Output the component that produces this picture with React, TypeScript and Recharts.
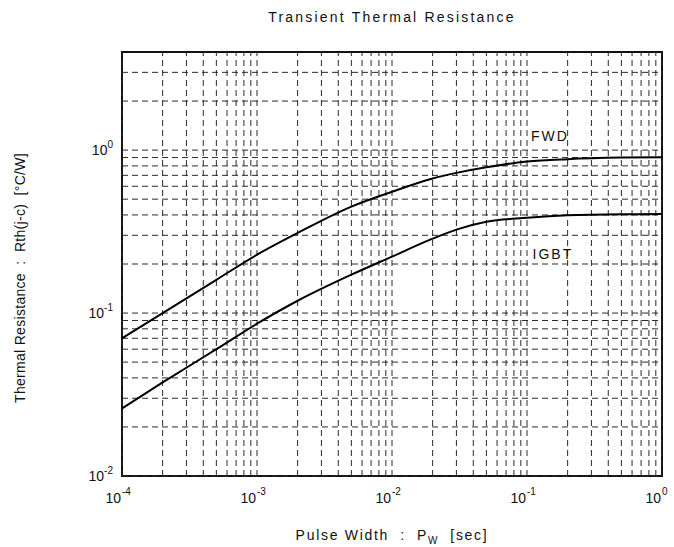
import React from "react";
import { LineChart, Line, XAxis, YAxis, ReferenceLine, ReferenceArea, ReferenceDot } from "recharts";

// pulse width [sec]
const fwdPw = [1e-4, 2e-4, 5e-4, 1e-3, 2e-3, 5e-3, 1e-2, 2e-2, 3e-2, 5e-2, 1e-1, 2e-1, 5e-1, 1];
const fwdRth = [0.07, 0.1, 0.16, 0.228, 0.31, 0.45, 0.555, 0.67, 0.725, 0.785, 0.85, 0.88, 0.9, 0.905];

const igbtPw = [1e-4, 2e-4, 5e-4, 1e-3, 2e-3, 5e-3, 1e-2, 2e-2, 3e-2, 5e-2, 1e-1, 2e-1, 5e-1, 1];
const igbtRth = [0.026, 0.0375, 0.06, 0.086, 0.119, 0.172, 0.222, 0.286, 0.325, 0.363, 0.384, 0.398, 0.404, 0.405];

const xTicks = [1e-4, 1e-3, 1e-2, 1e-1, 1];
const xExp = ["-4", "-3", "-2", "-1", "0"];
const yTicks = [0.01, 0.1, 1];
const yExp = ["-2", "-1", "0"];

const xDecades = [1e-4, 1e-3, 1e-2, 1e-1];
const yDecades = [0.01, 0.1];
const mult = [1, 2, 3, 4, 5, 6, 7, 8, 9];
const yExtra = [1, 2, 3];

const xGrid = xDecades.flatMap((d) => mult.map((m) => d * m)).concat([1]);
const yGrid = yDecades.flatMap((d) => mult.map((m) => d * m)).concat(yExtra);

const fwdData = fwdPw.map((t, i) => ({ t, r: fwdRth[i] }));
const igbtData = igbtPw.map((t, i) => ({ t, r: igbtRth[i] }));

const FONT = "'Liberation Sans', Arial, sans-serif";
const GRID = "#2a2a2a";

function XTick(props: any) {
    const { x, y, index } = props;
    return (
        <g>
            <text x={x - 1} y={y + 27} textAnchor="end" fontSize={14} fill="#111" fontFamily={FONT}>10</text>
            <text x={x} y={y + 19} textAnchor="start" fontSize={10} fill="#111" fontFamily={FONT}>{xExp[index]}</text>
        </g>
    );
}

function YTick(props: any) {
    const { x, y, index } = props;
    return (
        <text x={x - 9} y={y + 5} textAnchor="end" fontSize={14} fill="#111" fontFamily={FONT}>
            10<tspan dy={-7} fontSize={10}>{yExp[index]}</tspan>
        </text>
    );
}

const curveLabel = (txt: string) => (p: any) => (
    <text x={p.cx} y={p.cy} fontSize={14} letterSpacing={2} fill="#111" fontFamily={FONT}>{txt}</text>
);

export default function App() {
    return (
        <div style={{ position: "absolute", left: 0, top: 0, width: 674, height: 547, background: "#fff", fontFamily: FONT }}>
            <div style={{ position: "absolute", left: 122, width: 540, top: 9, textAlign: "center", fontSize: 14, letterSpacing: 2.2, color: "#111" }}>
                Transient Thermal Resistance
            </div>
            <div style={{ position: "absolute", left: 122, width: 540, top: 527, textAlign: "center", fontSize: 14, letterSpacing: 1.7, color: "#111", whiteSpace: "pre" }}>
                {"Pulse Width  :  P"}<sub style={{ fontSize: 10 }}>W</sub>{"  [sec]"}
            </div>
            <div style={{ position: "absolute", left: 20 - 150, top: 279 - 9, width: 300, textAlign: "center", fontSize: 14, letterSpacing: 0.3, color: "#111", transform: "rotate(-90deg)", whiteSpace: "pre" }}>
                {"Thermal Resistance  :  Rth(j-c)  [°C/W]"}
            </div>
            <LineChart width={674} height={547} margin={{ top: 52, right: 12, bottom: 0, left: 0 }}>
                <XAxis
                    dataKey="t"
                    type="number"
                    scale="log"
                    domain={[1e-4, 1]}
                    ticks={xTicks}
                    allowDataOverflow
                    axisLine={false}
                    tickLine={false}
                    tickSize={0}
                    tickMargin={0}
                    height={71}
                    tick={<XTick />}
                    interval={0}
                />
                <YAxis
                    dataKey="r"
                    type="number"
                    scale="log"
                    domain={[0.01, 4]}
                    ticks={yTicks}
                    allowDataOverflow
                    axisLine={false}
                    tickLine={false}
                    tickSize={0}
                    tickMargin={0}
                    width={122}
                    tick={<YTick />}
                    interval={0}
                />
                {xGrid.map((v) => (
                    <ReferenceLine key={`x${v}`} x={v} stroke={GRID} strokeWidth={1} strokeDasharray="6 4" />
                ))}
                {yGrid.map((v) => (
                    <ReferenceLine key={`y${v}`} y={v} stroke={GRID} strokeWidth={1} strokeDasharray="6 4" />
                ))}
                <Line data={fwdData} dataKey="r" type="monotoneX" stroke="#000" strokeWidth={2} dot={false} isAnimationActive={false} />
                <Line data={igbtData} dataKey="r" type="monotoneX" stroke="#000" strokeWidth={2} dot={false} isAnimationActive={false} />
                <ReferenceDot x={0.107} y={1.13} r={0} shape={curveLabel("FWD")} />
                <ReferenceDot x={0.11} y={0.215} r={0} shape={curveLabel("IGBT")} />
                <ReferenceArea x1={1e-4} x2={1} y1={0.01} y2={4} fill="none" stroke="#111" strokeWidth={2} />
            </LineChart>
        </div>
    );
}
